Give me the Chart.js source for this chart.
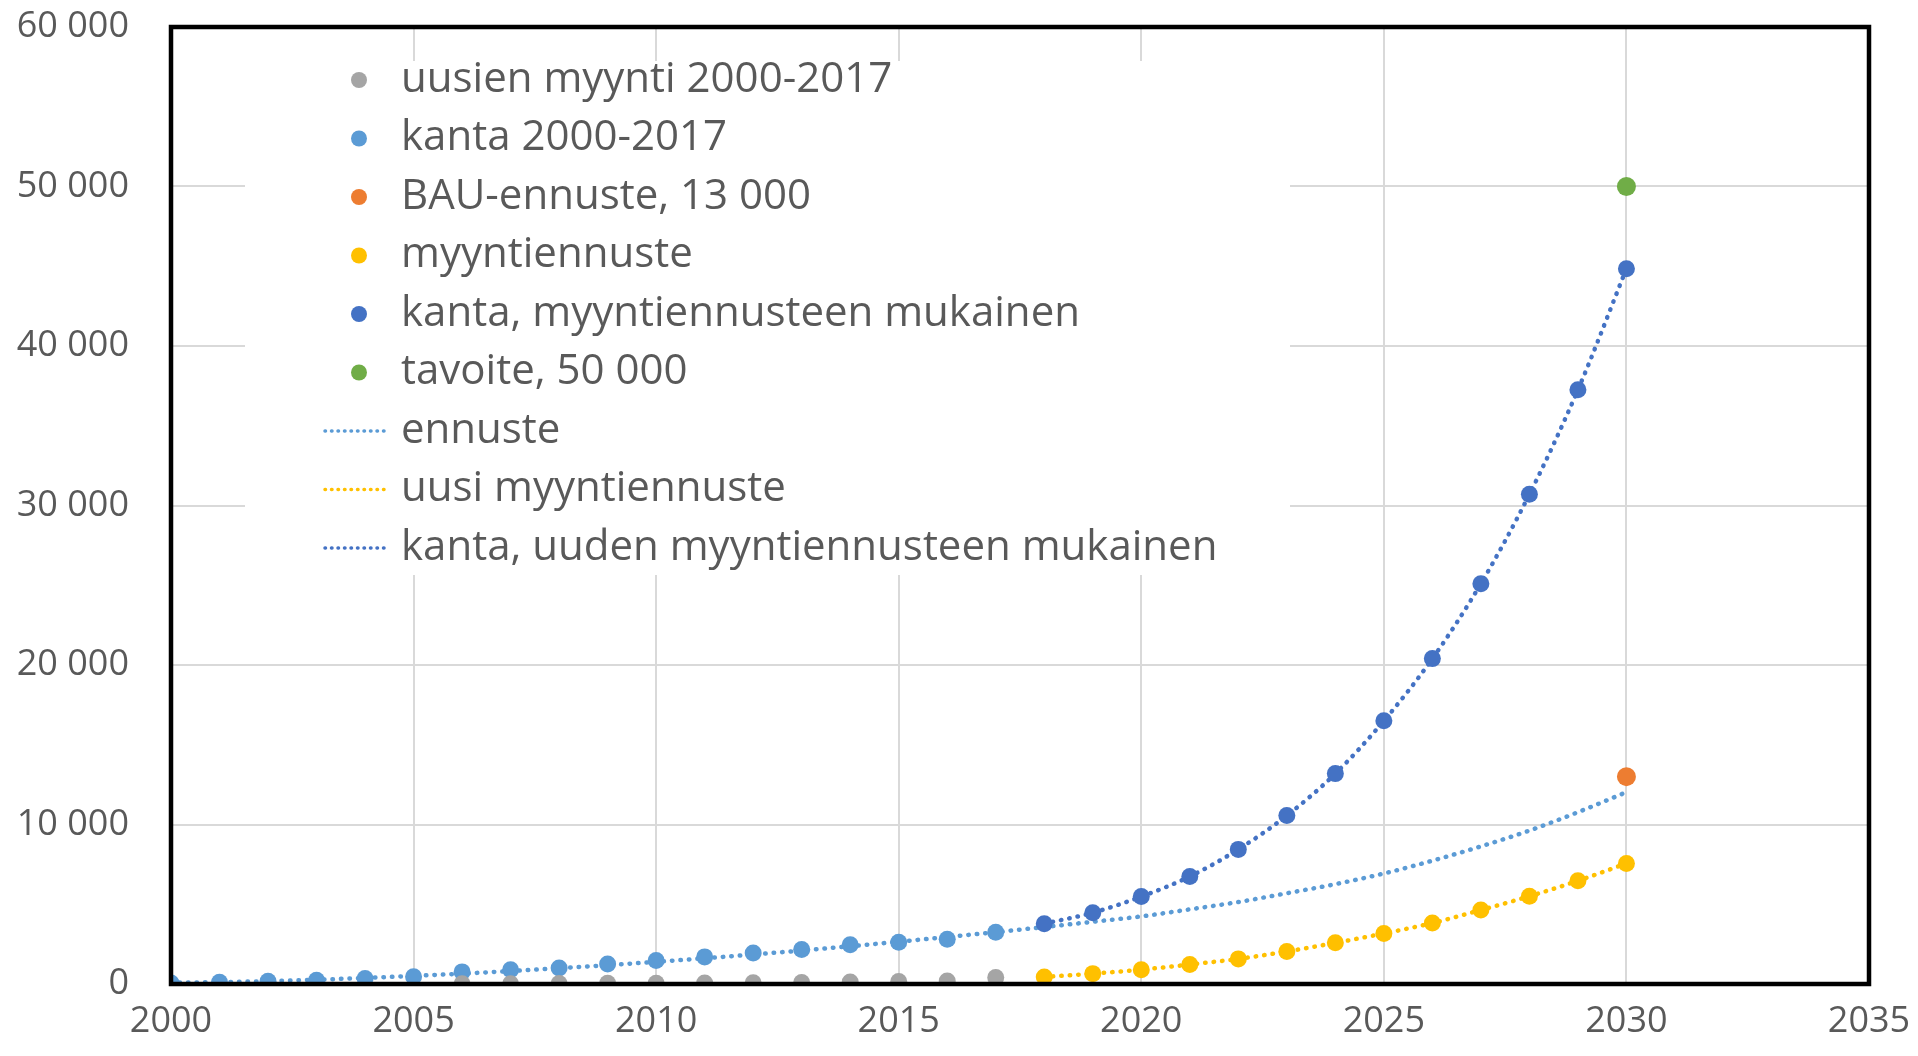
<!DOCTYPE html>
<html>
<meta charset="UTF-8">
<script src="https://cdn.jsdelivr.net/npm/chart.js"></script>
<head>
    <title>Kanta ja myynti</title>
    <style>
        body { margin: 0; background: #fff; }
        #wrap { width: 1918px; height: 1056px; }
    </style>
</head>
<body>
<div id="wrap"><canvas id="chart"></canvas></div>
<script>
    // vuodet
    const yearsHist = [2000, 2001, 2002, 2003, 2004, 2005, 2006, 2007, 2008, 2009, 2010, 2011, 2012, 2013, 2014, 2015, 2016, 2017];
    const yearsSales = [2006, 2007, 2008, 2009, 2010, 2011, 2012, 2013, 2014, 2015, 2016, 2017];
    const yearsFcst = [2018, 2019, 2020, 2021, 2022, 2023, 2024, 2025, 2026, 2027, 2028, 2029, 2030];
    const yearsTrend = [2000, 2001, 2002, 2003, 2004, 2005, 2006, 2007, 2008, 2009, 2010, 2011, 2012, 2013, 2014, 2015,
        2016, 2017, 2018, 2019, 2020, 2021, 2022, 2023, 2024, 2025, 2026, 2027, 2028, 2029, 2030];

    // arvot kuvasta luettuna
    const uusienMyynti = [15, 20, 25, 40, 50, 60, 80, 100, 130, 150, 190, 400];
    const kantaHist = [60, 105, 170, 230, 340, 460, 760, 900, 1010, 1260, 1470, 1700, 1950, 2160, 2460, 2620, 2810, 3250];
    const bauYear = [2030];
    const bauValue = [13000];
    const myyntiennuste = [440, 650, 900, 1220, 1575, 2040, 2580, 3170, 3820, 4640, 5500, 6470, 7560];
    const kantaFcst = [3780, 4470, 5480, 6740, 8440, 10560, 13190, 16500, 20400, 25100, 30700, 37250, 44850];
    const tavoiteYear = [2030];
    const tavoiteValue = [50000];
    const ennusteTrend = [80, 120, 180, 270, 380, 510, 650, 810, 990, 1180, 1390, 1610, 1850, 2100, 2370, 2650,
        2950, 3250, 3570, 3900, 4240, 4680, 5140, 5690, 6260, 6930, 7730, 8630, 9620, 10770, 12030];

    const xTicks = [2000, 2005, 2010, 2015, 2020, 2025, 2030, 2035];
    const yTicks = [0, 10000, 20000, 30000, 40000, 50000, 60000];

    const GRAY = '#A5A5A5', LBLUE = '#5B9BD5', ORANGE = '#ED7D31', YELLOW = '#FFC000', DBLUE = '#4472C4', GREEN = '#70AD47';

    function pts(xs, ys) {
        return xs.map((x, i) => ({x: x, y: ys[i]}));
    }

    function markers(label, xs, ys, color, r) {
        return {
            label: label, data: pts(xs, ys), showLine: false,
            pointRadius: r, pointHoverRadius: r, pointBackgroundColor: color, pointBorderWidth: 0,
            backgroundColor: color, borderColor: color, legendType: 'point'
        };
    }

    function dotted(label, xs, ys, color) {
        return {
            label: label, data: pts(xs, ys), showLine: true, pointRadius: 0, pointHoverRadius: 0,
            borderColor: color, backgroundColor: color, borderWidth: 4.5, borderDash: [0.5, 8],
            borderCapStyle: 'round', cubicInterpolationMode: 'monotone', legendType: 'line'
        };
    }

    const datasets = [
        markers('uusien myynti 2000-2017', yearsSales, uusienMyynti, GRAY, 8.5),
        markers('kanta 2000-2017', yearsHist, kantaHist, LBLUE, 8.5),
        markers('BAU-ennuste, 13 000', bauYear, bauValue, ORANGE, 9.5),
        markers('myyntiennuste', yearsFcst, myyntiennuste, YELLOW, 8.5),
        markers('kanta, myyntiennusteen mukainen', yearsFcst, kantaFcst, DBLUE, 8.5),
        markers('tavoite, 50 000', tavoiteYear, tavoiteValue, GREEN, 9.5),
        dotted('ennuste', yearsTrend, ennusteTrend, LBLUE),
        dotted('uusi myyntiennuste', yearsFcst, myyntiennuste, YELLOW),
        dotted('kanta, uuden myyntiennusteen mukainen', yearsFcst, kantaFcst, DBLUE)
    ];

    const FONT = '"Open Sans", "Noto Sans", sans-serif';

    // selite kuvaajan sisällä valkoisella pohjalla
    const boxLegend = {
        id: 'boxLegend',
        beforeDatasetsDraw(chart) {
            const ctx = chart.ctx;
            ctx.save();
            ctx.fillStyle = '#fff';
            ctx.fillRect(245, 61, 1045, 514);
            ctx.font = '42px ' + FONT;
            ctx.textBaseline = 'middle';
            chart.data.datasets.forEach((ds, i) => {
                const y = 80 + i * 58.5;
                if (ds.legendType === 'point') {
                    ctx.fillStyle = ds.pointBackgroundColor;
                    ctx.beginPath();
                    ctx.arc(359, y, 8, 0, Math.PI * 2);
                    ctx.fill();
                } else {
                    ctx.strokeStyle = ds.borderColor;
                    ctx.lineWidth = 3.5;
                    ctx.lineCap = 'round';
                    ctx.setLineDash([0.5, 6]);
                    ctx.beginPath();
                    ctx.moveTo(325, y);
                    ctx.lineTo(390, y);
                    ctx.stroke();
                    ctx.setLineDash([]);
                }
                ctx.fillStyle = '#595959';
                ctx.fillText(ds.label, 401, y);
            });
            ctx.restore();
        },
        afterDraw(chart) {
            const a = chart.chartArea, ctx = chart.ctx;
            ctx.save();
            ctx.strokeStyle = '#000';
            ctx.lineWidth = 4.5;
            ctx.strokeRect(a.left, a.top, a.right - a.left, a.bottom - a.top);
            ctx.restore();
        }
    };

    new Chart(document.getElementById('chart'), {
        type: 'scatter',
        data: {datasets: datasets},
        options: {
            responsive: true,
            maintainAspectRatio: false,
            animation: false,
            layout: {padding: {top: 27, right: 49, left: 0, bottom: 0}},
            plugins: {legend: {display: false}, tooltip: {enabled: false}},
            scales: {
                x: {
                    type: 'linear', min: 2000, max: 2035,
                    afterBuildTicks: s => { s.ticks = xTicks.map(v => ({value: v})); },
                    afterFit: s => { s.height = 72; s.paddingRight = 0; s.paddingLeft = 0; },
                    grid: {color: '#d9d9d9', lineWidth: 2, drawTicks: false},
                    border: {display: false},
                    ticks: {
                        color: '#595959', font: {family: FONT, size: 36}, padding: 16,
                        callback: v => String(v)
                    }
                },
                y: {
                    min: 0, max: 60000,
                    afterBuildTicks: s => { s.ticks = yTicks.map(v => ({value: v})); },
                    afterFit: s => { s.width = 171; s.paddingTop = 0; s.paddingBottom = 0; },
                    grid: {color: '#d9d9d9', lineWidth: 2, drawTicks: false},
                    border: {display: false},
                    ticks: {
                        color: '#595959', font: {family: FONT, size: 36}, padding: 42,
                        callback: v => v === 0 ? '0' : (v / 1000) + ' 000'
                    }
                }
            }
        },
        plugins: [boxLegend]
    });
</script>
</body>
</html>
